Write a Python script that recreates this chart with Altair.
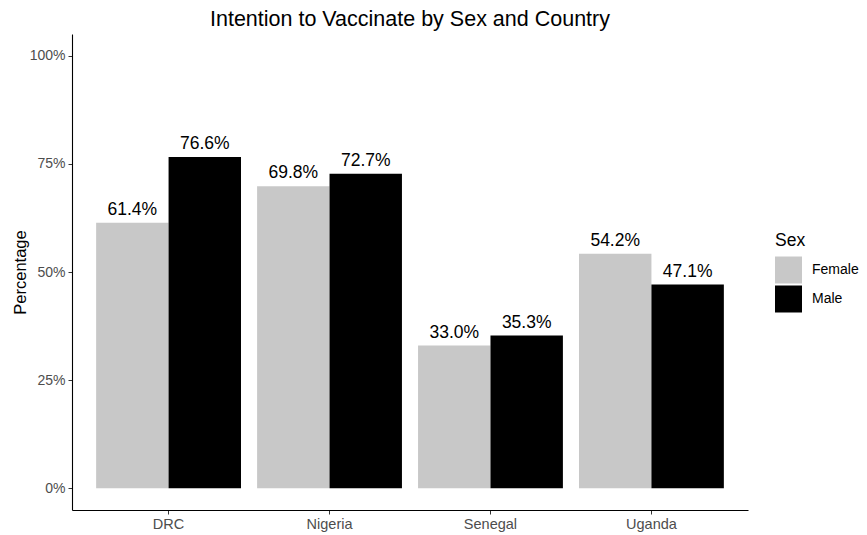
import altair as alt
import pandas as pd

countries = ["DRC", "Nigeria", "Senegal", "Uganda"]
sexes = ["Female", "Male"]
female_pct = [61.4, 69.8, 33.0, 54.2]
male_pct = [76.6, 72.7, 35.3, 47.1]
colors = ["#c8c8c8", "#000000"]
y_ticks = [0, 0.25, 0.5, 0.75, 1.0]

rows = []
for c, f, m in zip(countries, female_pct, male_pct):
    rows.append({"Country": c, "Sex": "Female", "Value": f / 100, "Label": f"{f:.1f}%"})
    rows.append({"Country": c, "Sex": "Male", "Value": m / 100, "Label": f"{m:.1f}%"})
df = pd.DataFrame(rows)

FONT = "Liberation Sans"

x_enc = alt.X("Country:N", sort=countries,
              scale=alt.Scale(paddingInner=0.1, paddingOuter=0.15),
              axis=alt.Axis(title=None, labelAngle=0, labelFontSize=14.5, labelColor="#4d4d4d",
                            labelPadding=3, tickSize=4, tickColor="#333333", domainColor="#000000",
                            labelFont=FONT))
xoff = alt.XOffset("Sex:N", sort=sexes, scale=alt.Scale(paddingInner=0, paddingOuter=0))
y_scale = alt.Scale(domain=[-0.05, 1.05], nice=False, zero=False)

bars = alt.Chart(df).mark_bar(stroke=None).encode(
    x=x_enc,
    xOffset=xoff,
    y=alt.Y("Value:Q", scale=y_scale,
            axis=alt.Axis(title="Percentage", values=y_ticks, format=".0%", grid=False,
                          labelFontSize=14, labelColor="#4d4d4d", labelPadding=3, tickSize=4,
                          tickColor="#333333", domainColor="#000000", titleFontSize=16.5,
                          titleFontWeight="normal", titleColor="#000000", titlePadding=1,
                          labelFont=FONT, titleFont=FONT)),
    y2=alt.datum(0),
    color=alt.Color("Sex:N", sort=sexes, scale=alt.Scale(domain=sexes, range=colors),
                    legend=alt.Legend(title="Sex", orient="none", legendX=703, legendY=198,
                                      symbolType="square", symbolSize=729, symbolStrokeWidth=0,
                                      titleFontSize=17.5, titleFontWeight="normal", titleColor="#000000",
                                      labelFontSize=14, labelColor="#000000", labelOffset=10,
                                      titlePadding=7, rowPadding=2, padding=0,
                                      titleFont=FONT, labelFont=FONT)),
)

labels = alt.Chart(df).mark_text(baseline="bottom", dy=-4, fontSize=17.5, color="#000000",
                                 font=FONT).encode(
    x=alt.X("Country:N", sort=countries),
    xOffset=alt.XOffset("Sex:N", sort=sexes),
    y=alt.Y("Value:Q", scale=y_scale),
    text="Label:N",
)

chart = (bars + labels).properties(
    width=676,
    height=476,
    title=alt.TitleParams("Intention to Vaccinate by Sex and Country", fontSize=21.5,
                          fontWeight="normal", font=FONT, color="#000000", anchor="middle",
                          offset=4),
    autosize=alt.AutoSizeParams(type="none"),
    padding={"left": 64, "top": 26, "right": 111, "bottom": 25},
).configure_view(stroke=None).configure_axis(domainWidth=1.1)

chart.save("out.html", embed_options={"renderer": "svg", "actions": False})
